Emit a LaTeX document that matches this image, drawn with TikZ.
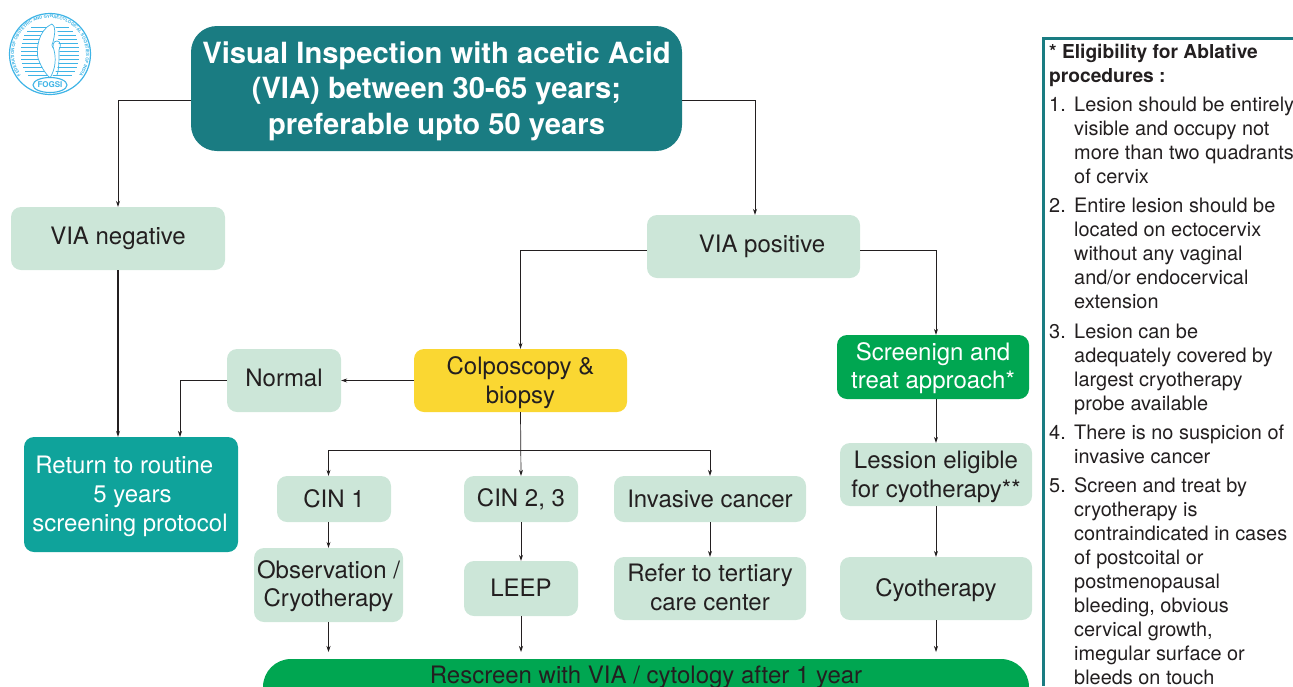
\documentclass[tikz,border=0pt]{standalone}
\usepackage{fontspec}
\setmainfont{TeX Gyre Heros}
\usetikzlibrary{arrows.meta,decorations.text}
\definecolor{tealdark}{HTML}{1A7C82}
\definecolor{paleg}{HTML}{CCE6D8}
\definecolor{yel}{HTML}{FAD732}
\definecolor{grn}{HTML}{00A651}
\definecolor{tealmid}{HTML}{0FA39B}
\definecolor{ink}{HTML}{231F20}
\definecolor{logob}{HTML}{3FB4E6}
\newcommand{\sideitem}[2]{\makebox[25pt][l]{#1}\begin{tabular}[t]{@{}l@{}}#2\end{tabular}}
\newcommand{\dnf}{\rule{0pt}{22pt}}
\newcommand{\upf}[1]{\rule[-#1pt]{0pt}{#1pt}}
\tikzset{
 x=1pt,y=-1pt,
 box/.style={rounded corners=10pt,inner sep=0pt,align=center,text=ink,font=\fontsize{24}{28.7}\selectfont},
 pale/.style={box,fill=paleg},
 conn/.style={draw=ink,line width=0.7pt,-{Stealth[length=6pt,width=4pt]}},
 link/.style={draw=ink,line width=0.7pt},
 side/.style={anchor=north west,inner sep=0pt,text=ink,align=left,font=\fontsize{19.9}{24}\selectfont},
 stripe/.style={draw=logob,line width=1pt},
 logoline/.style={draw=logob,line width=0.7pt},
}
\begin{document}
\begin{tikzpicture}
\useasboundingbox (0,0) rectangle (1293,686);
\clip (0,0) rectangle (1293,686);
% logo
\draw[logob,line width=1.2pt] (50,54) circle[radius=40.5];
\foreach \yy/\hw in {27/19,31/23,35/26,39/27,43/28,47/29,51/29,55/29,59/29,63/28,67/27,71/25,75/22}{
 \draw[stripe] (50-\hw,\yy) -- (50+\hw,\yy);}
\fill[white] (52,24) .. controls (38,30) and (36,50) .. (38,58) .. controls (42,70) and (48,76) .. (50,78) .. controls (58,72) and (62,60) .. (58,40) .. controls (60,34) and (56,26) .. (52,24) -- cycle;
\draw[logoline] (52,24) .. controls (38,30) and (36,50) .. (38,58) .. controls (42,70) and (48,76) .. (50,78);
\draw[logoline] (52,24) .. controls (56,26) and (55,34) .. (53,42) .. controls (52,44) and (51,46) .. (53,48);
\draw[logoline] (57,41) .. controls (53,41) and (52,46) .. (54,50) .. controls (56,58) and (56,68) .. (50,78);
\draw[logoline] (57,41) .. controls (61,41) and (61,47) .. (59,50) .. controls (59,60) and (59,70) .. (57,75);
\path[postaction={decorate,decoration={text along path,text align=center,text={|\fontsize{4.3}{5}\selectfont\bfseries\color{logob}|FEDERATION OF OBSTETRIC AND GYNAECOLOGICAL SOCIETIES OF INDIA}}}]
 (29.9,83.8) arc[start angle=124,end angle=416,radius=36];
\draw[logob,line width=1.1pt,fill=white] (50,85) ellipse[x radius=17,y radius=7.5];
\node[text=logob,font=\fontsize{8}{9}\selectfont\bfseries,inner sep=0pt] (fogsi) at (50,85) {FOGSI};
% nodes
\node[box,fill=tealdark,text=white,rounded corners=26pt,minimum width=491pt,minimum height=125pt,font=\fontsize{29.2}{35.3}\selectfont\bfseries] (main) at (436.5,88.5) {\rule{0pt}{27pt}Visual Inspection with acetic Acid\\(VIA) between 30-65 years;\\preferable upto 50 years};
\node[pale,minimum width=214pt,minimum height=63pt] (neg) at (118,238.5) {};
\node[font=\fontsize{24}{28.7}\selectfont,text=ink,inner sep=0pt] (negt) at (118,238) {VIA negative};
\node[pale,minimum width=213pt,minimum height=63pt] (pos) at (753.5,246.5) {};
\node[font=\fontsize{24}{28.7}\selectfont,text=ink,inner sep=0pt] (post) at (762,246) {VIA positive};
\node[box,fill=yel,minimum width=213pt,minimum height=63pt] (col) at (520.5,380.5) {\dnf Colposcopy \&\\biopsy};
\node[pale,minimum width=114pt,minimum height=63pt] (nor) at (284,380.5) {Normal\upf{5}};
\node[box,fill=grn,text=white,minimum width=192pt,minimum height=64pt] (scr) at (933,367) {\rule{0pt}{20pt}Screenign and\\treat approach*};
\node[pale,minimum width=192pt,minimum height=63pt] (les) at (936,474.5) {\dnf Lession eligible\\for cyotherapy**};
\node[box,fill=tealmid,text=white,minimum width=214pt,minimum height=115pt] (ret) at (131,494.5) {};
\node[inner sep=0pt,text=white,align=left,font=\fontsize{24}{29}\selectfont] (rett) at (130,496.5) {\hspace*{3pt}Return to routine\\\hspace*{61pt}5 years\\screening protocol};
\node[pale,minimum width=114pt,minimum height=46pt] (c1) at (334,499) {CIN 1};
\node[pale,minimum width=114pt,minimum height=46pt] (c2) at (521,499) {\rule{0pt}{19pt}CIN 2, 3};
\node[pale,minimum width=192pt,minimum height=46pt] (inv) at (710,499) {Invasive cancer};
\node[pale,minimum width=149pt,minimum height=74pt] (obs) at (328.5,585) {\rule{0pt}{20pt}Observation /\\Cryotherapy};
\node[pale,minimum width=114pt,minimum height=55pt] (leep) at (521,588.5) {LEEP\upf{2}};
\node[pale,minimum width=192pt,minimum height=63pt] (ref) at (710,588.5) {Refer to tertiary\\care center\upf{2}};
\node[pale,minimum width=192pt,minimum height=63pt] (cyo) at (936,588.5) {\dnf Cyotherapy};
\fill[grn,rounded corners=28pt] (263,720) rectangle (1029,659);
\node[inner sep=0pt,text=ink,font=\fontsize{24}{28.7}\selectfont] (res) at (646,677) {Rescreen with VIA / cytology after 1 year};
% connectors
\coordinate (bar) at (521,450);
\coordinate (nd) at (180,437);
\coordinate (t1) at (328.5,652);
\coordinate (t2) at (521,652);
\coordinate (t3) at (936,652);
\path[conn] ([yshift=-12pt]main.west) -| (neg.north);
\path[conn] ([yshift=-12pt]main.east) -| ([xshift=1.5pt]pos.north);
\path[conn,line width=1.2pt] (neg.south) -- (neg.south |- ret.north);
\path[conn] ([yshift=-4pt]pos.west) -| (col.north);
\path[conn] ([yshift=-4pt]pos.east) -| ([xshift=3pt]scr.north);
\path[conn] (col.west) -- (nor.east);
\path[conn] (nor.west) -| (nd);
\path[conn] (col.south) -- (c2.north);
\path[link] (bar) -- (bar -| obs.north);
\path[link] (bar) -- (bar -| inv.north);
\path[conn] (bar -| obs.north) -- (obs.north |- c1.north);
\path[conn] (bar -| inv.north) -- (inv.north);
\path[conn] (les.north |- scr.south) -- (les.north);
\path[conn] (les.south) -- (cyo.north);
\path[conn] (obs.north |- c1.south) -- (obs.north);
\path[conn] (c2.south) -- (leep.north);
\path[conn] (inv.south) -- (ref.north);
\path[conn] (obs.south) -- (t1);
\path[conn] (leep.south) -- (t2);
\path[conn] (cyo.south) -- (t3);
% side panel
\draw[tealdark,line width=3pt] (1293,38) -- (1043.5,38) -- (1043.5,686);
\node[side,font=\fontsize{19.2}{24}\selectfont\bfseries] (s0) at (1049,44) {* Eligibility for Ablative\\procedures :};
\node[side] (s1) at (1049,94) {\sideitem{1.}{Lesion should be entirely\\visible and occupy not\\more than two quadrants\\of cervix}};
\node[side] (s2) at (1049,195) {\sideitem{2.}{Entire lesion should be\\located on ectocervix\\without any vaginal\\and/or endocervical\\extension}};
\node[side] (s3) at (1049,321) {\sideitem{3.}{Lesion can be\\adequately covered by\\largest cryotherapy\\probe available}};
\node[side] (s4) at (1049,422) {\sideitem{4.}{There is no suspicion of\\invasive cancer}};
\node[side] (s5) at (1049,475) {\sideitem{5.}{Screen and treat by\\cryotherapy is\\contraindicated in cases\\of postcoital or\\postmenopausal\\bleeding, obvious\\cervical growth,\\imegular surface or\\bleeds on touch}};
\end{tikzpicture}
\end{document}
